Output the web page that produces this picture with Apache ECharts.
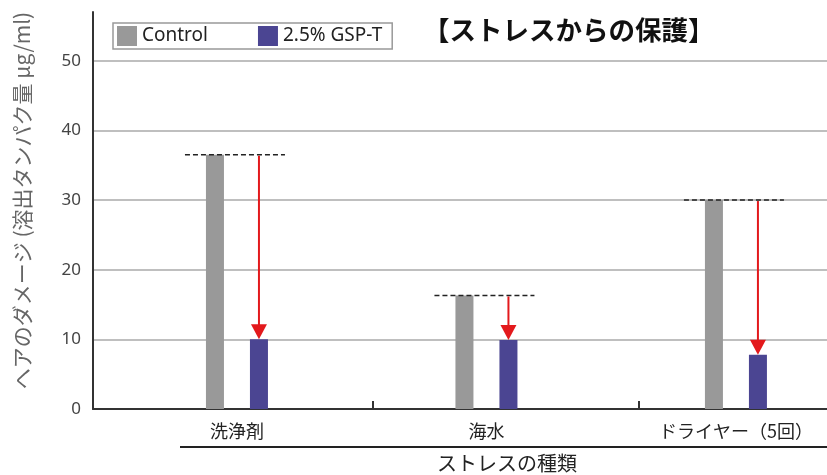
<!DOCTYPE html>
<html>
<head>
<meta charset="utf-8">
<script src="https://cdn.jsdelivr.net/npm/echarts@6/dist/echarts.min.js"></script>
<style>
html,body{margin:0;padding:0;background:#fff;}
#chart{width:827px;height:475px;}
</style>
</head>
<body>
<div id="chart"></div>
<script>
// ---- data ----
const categories = ['洗浄剤', '海水', 'ドライヤー（5回）'];
const seriesNames = ['Control', '2.5% GSP-T'];
const control = [36.5, 16.3, 30.0];
const gsp = [10.0, 9.9, 7.8];
const yTickLabels = [0, 10, 20, 30, 40, 50];
const groupDividers = [0.545, 1.611];
const titleText = '【ストレスからの保護】';
const yName = 'ヘアのダメージ (溶出タンパク量 μg/ml)';
const xName = 'ストレスの種類';

const JP = '"Noto Sans CJK JP", "Noto Sans", sans-serif';
const LAT = '"Noto Sans", "Open Sans", sans-serif';
const GRAY = '#999999';
const BLUE = '#4b4592';
const RED = '#e3191c';
const BAR_W = 18;
const BAR_GAP_PX = 26;
const HALF = (BAR_W + BAR_GAP_PX) / 2;

const chart = echarts.init(document.getElementById('chart'), null, {renderer: 'canvas'});

const option = {
  backgroundColor: '#ffffff',
  animation: false,
  title: {
    text: titleText,
    left: 418, top: 12,
    textStyle: {fontFamily: JP, fontSize: 26.5, fontWeight: 'bold', color: '#111'}
  },
  legend: {
    data: seriesNames,
    left: 113, top: 23,
    orient: 'horizontal',
    itemWidth: 20, itemHeight: 20, itemGap: 50,
    padding: [3, 10, 3, 4],
    borderColor: '#999', borderWidth: 1.5,
    icon: 'rect',
    textStyle: {fontFamily: LAT, fontSize: 19, color: '#222'}
  },
  grid: {left: 93, right: 0, top: 12, bottom: 66, containLabel: false, outerBoundsMode: 'none'},
  xAxis: {
    type: 'value',
    min: -0.577, max: 2.365,
    name: xName,
    nameLocation: 'middle',
    nameGap: 44,
    nameTextStyle: {fontFamily: JP, fontSize: 20, color: '#222', padding: [0, 0, 0, 94]},
    axisLine: {show: true, onZero: false, lineStyle: {color: '#333', width: 2}},
    axisTick: {show: true, inside: true, length: 8, customValues: groupDividers, lineStyle: {color: '#333', width: 2}},
    axisLabel: {
      customValues: [0, 1, 2],
      formatter: v => categories[Math.round(v)] || '',
      fontFamily: JP, fontSize: 18, color: '#222', margin: 13
    },
    splitLine: {show: false}
  },
  yAxis: {
    type: 'value',
    min: 0, max: 57, interval: 10,
    name: yName,
    nameLocation: 'middle',
    nameRotate: 90,
    nameGap: 60,
    nameTextStyle: {fontFamily: JP, fontSize: 21, color: '#666', padding: [0, 0, 0, 20]},
    axisLine: {show: true, onZero: false, lineStyle: {color: '#333', width: 2}},
    axisTick: {show: false},
    axisLabel: {
      showMaxLabel: false,
      fontFamily: LAT, fontSize: 17, color: '#444', margin: 12,
      formatter: v => (yTickLabels.indexOf(v) >= 0 ? String(v) : '')
    },
    splitLine: {show: true, showMaxLine: false, lineStyle: {color: '#aaaaaa', width: 1.5}}
  },
  graphic: [{
    type: 'line',
    shape: {x1: 180, y1: 447, x2: 827, y2: 447},
    style: {stroke: '#222', lineWidth: 2}
  }],
  series: [
    {
      name: seriesNames[0], type: 'bar',
      barWidth: BAR_W, barGap: (BAR_GAP_PX / BAR_W * 100) + '%',
      itemStyle: {color: GRAY},
      data: control.map((v, i) => [i, v])
    },
    {
      name: seriesNames[1], type: 'bar',
      barWidth: BAR_W,
      itemStyle: {color: BLUE},
      data: gsp.map((v, i) => [i, v])
    },
    {
      name: 'annot', type: 'custom',
      silent: true,
      encode: {x: 0, y: [1, 2]},
      data: categories.map((_, i) => [i, control[i], gsp[i]]),
      renderItem: function (params, api) {
        const i = api.value(0);
        const pC = api.coord([i, api.value(1)]);
        const pG = api.coord([i, api.value(2)]);
        const ax = pC[0] + HALF;
        return {
          type: 'group',
          children: [
            {type: 'line', shape: {x1: pC[0] - 52, y1: pC[1], x2: pC[0] + 48, y2: pC[1]},
             style: {stroke: '#222', lineWidth: 1.5, lineDash: [5, 3]}},
            {type: 'line', shape: {x1: ax, y1: pC[1] + 1, x2: ax, y2: pG[1] - 12},
             style: {stroke: RED, lineWidth: 2}},
            {type: 'polygon', shape: {points: [[ax - 8, pG[1] - 15], [ax + 8, pG[1] - 15], [ax, pG[1]]]},
             style: {fill: RED}}
          ]
        };
      },
      z: 5
    }
  ]
};
chart.setOption(option);
</script>
</body>
</html>
